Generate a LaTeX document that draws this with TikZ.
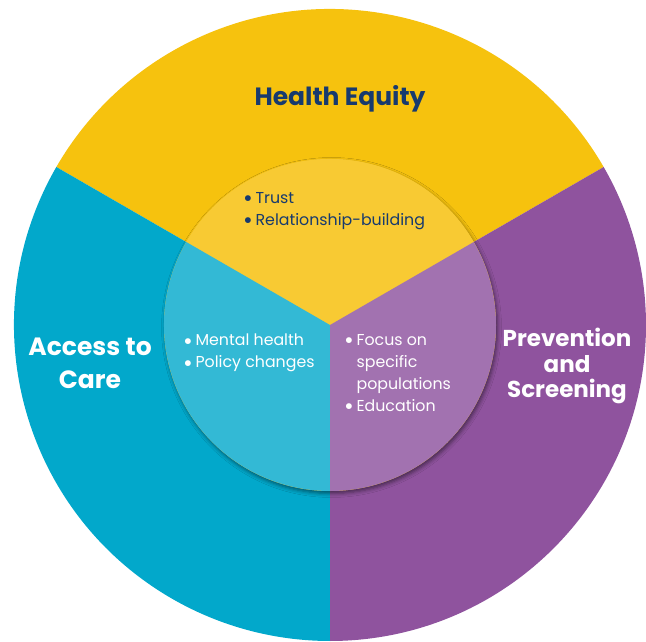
\documentclass[tikz,border=0pt]{standalone}
\usepackage{fontspec}
\setmainfont{Poppins}
\usetikzlibrary{shadows.blur}
\definecolor{eqyellow}{HTML}{F6C20E}
\definecolor{eqyellowlt}{HTML}{F8CA33}
\definecolor{acblue}{HTML}{02A8CB}
\definecolor{acbluelt}{HTML}{33B9D5}
\definecolor{prpurple}{HTML}{8F539E}
\definecolor{prpurplelt}{HTML}{A272B0}
\definecolor{navy}{HTML}{173A6E}
\newcommand{\blt}{\raisebox{-0.4ex}{\scalebox{1.5}{\textbullet}}\,}
\newcommand{\nob}{\hphantom{\scalebox{1.5}{\textbullet}\,}}

\begin{document}
\begin{tikzpicture}[x=1pt,y=1pt]

\tikzset{title/.style = {font=\bfseries\fontsize{25}{33}\selectfont, align=center, text=white}}
\tikzset{points/.style = {font=\fontsize{15.8}{22}\selectfont, align=left, text=white, anchor=north west, inner sep=0pt}}
\useasboundingbox (0,0) rectangle (646,641);
\coordinate (o) at (330,316);

% outer ring
\fill[eqyellow] (o) -- ++(30:316) arc[start angle=30, end angle=150, radius=316] -- cycle;
\fill[acblue] (o) -- ++(150:316) arc[start angle=150, end angle=270, radius=316] -- cycle;
\fill[prpurple] (o) -- ++(270:316) arc[start angle=270, end angle=390, radius=316] -- cycle;

% inner disc
\path[fill=eqyellowlt, blur shadow={shadow xshift=1.5pt, shadow yshift=-2.5pt, shadow blur radius=4pt, shadow opacity=50}] (o) circle[radius=166];
\fill[eqyellowlt] (o) -- ++(30:166) arc[start angle=30, end angle=150, radius=166] -- cycle;
\fill[acbluelt] (o) -- ++(150:166) arc[start angle=150, end angle=270, radius=166] -- cycle;
\fill[prpurplelt] (o) -- ++(270:166) arc[start angle=270, end angle=390, radius=166] -- cycle;

\node[title, text=navy] (equity) at (340,542) {Health Equity};
\node[title] (access) at (90,278) {Access to\\Care};
\node[title, font=\bfseries\fontsize{23}{25.5}\selectfont] (prevention) at (567,275) {Prevention\\and\\Screening};

\node[points, text=navy] (trust) at (243,449) {\blt Trust\\\blt Relationship-building};
\node[points] (mental) at (183,307) {\blt Mental health\\\blt Policy changes};
\node[points] (focus) at (344,307) {\blt Focus on\\\nob specific\\\nob populations\\\blt Education};
\end{tikzpicture}
\end{document}
